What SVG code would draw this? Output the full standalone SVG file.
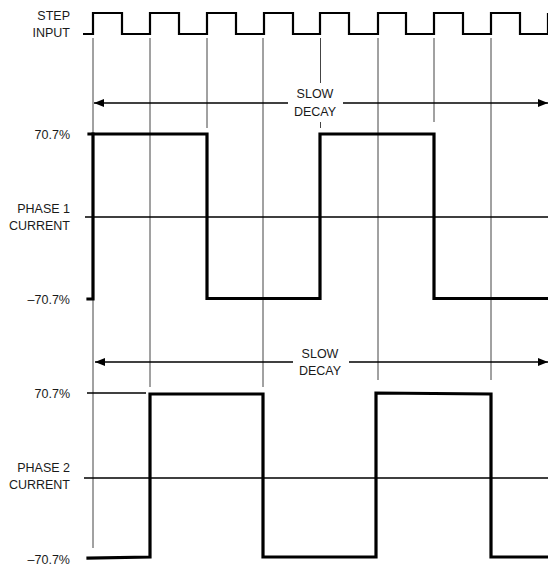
<svg xmlns="http://www.w3.org/2000/svg" width="548" height="567" viewBox="0 0 548 567">
<style>
text{font-family:"Liberation Sans",Arial,sans-serif;font-size:12.5px;fill:#1a1a1a}
.r{text-anchor:end}
.c{text-anchor:middle}
.grid{stroke:#444;stroke-width:1;fill:none}
.zero{stroke:#000;stroke-width:1.6;fill:none}
.wave{stroke:#000;stroke-width:3.2;fill:none;stroke-linejoin:miter;stroke-linecap:square}
.step{stroke:#000;stroke-width:2.2;fill:none;stroke-linejoin:miter}
.arr{stroke:#000;stroke-width:1.3;fill:none}
</style>
<defs>
<marker id="ah" viewBox="0 0 10 8" refX="10" refY="4" markerWidth="10" markerHeight="8" markerUnits="userSpaceOnUse" orient="auto-start-reverse">
<path d="M0,0 L10,4 L0,8 Z" fill="#000"/>
</marker>
</defs>
<rect width="548" height="567" fill="#fff"/>
<g id="labels">
<text class="r" x="70" y="20">STEP</text>
<text class="r" x="70" y="37">INPUT</text>
<text class="r" x="70" y="139">70.7%</text>
<text class="r" x="70" y="213">PHASE 1</text>
<text class="r" x="70" y="230">CURRENT</text>
<text class="r" x="70" y="304">–70.7%</text>
<text class="r" x="70" y="398">70.7%</text>
<text class="r" x="70" y="472">PHASE 2</text>
<text class="r" x="70" y="489">CURRENT</text>
<text class="r" x="70" y="564">–70.7%</text>
</g>
<g id="grid">
<path class="grid" d="M93,38 V548 M150,38 V387 M207,38 V128 M263,38 V387 M320.5,38 V83 M320.5,122 V128 M378,38 V380 M434,38 V122 M491,38 V380"/>
<path class="zero" d="M85,217 H548 M84,478 H548"/>
<path class="grid" style="stroke:#000;stroke-width:1.3" d="M87,393 H146"/>
</g>
<g id="step-input">
<path class="step" d="M83,34 H93 V13 H122 V34 H150 V13 H179 V34 H207 V13 H236 V34 H264 V13 H293 V34 H320 V13 H349 V34 H378 V13 H406 V34 H434 V13 H463 V34 H491 V13 H520 V34 H548 V13"/>
</g>
<g id="phase1">
<path class="wave" d="M89,134 H207 V298.5 H320 V134 H434 V298.5 H548"/>
<path class="wave" d="M93,134 V299 H88"/>
</g>
<g id="phase2">
<path class="wave" d="M88,558 L150,557 V394 H263 V557 H376 V393 L491,394 V557 H548"/>
</g>
<g id="connectors">
<path class="arr" d="M288,103 H94" marker-end="url(#ah)"/>
<path class="arr" d="M343,103 H548" marker-end="url(#ah)"/>
<path class="arr" d="M293,362 H95" marker-end="url(#ah)"/>
<path class="arr" d="M349,362 H548" marker-end="url(#ah)"/>
</g>
<g id="slow-decay-1">
<text class="c" x="315" y="98">SLOW</text>
<text class="c" x="315" y="116">DECAY</text>
</g>
<g id="slow-decay-2">
<text class="c" x="320" y="358">SLOW</text>
<text class="c" x="320" y="375">DECAY</text>
</g>
</svg>
